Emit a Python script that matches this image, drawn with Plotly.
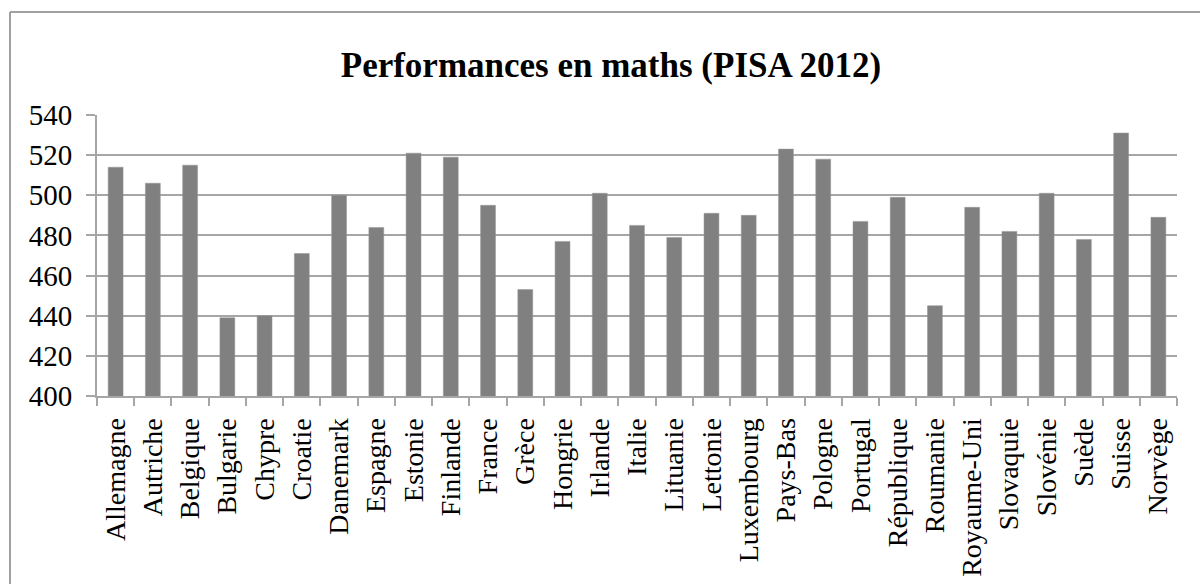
import plotly.graph_objects as go

pays = ["Allemagne", "Autriche", "Belgique", "Bulgarie", "Chypre", "Croatie",
        "Danemark", "Espagne", "Estonie", "Finlande", "France", "Grèce",
        "Hongrie", "Irlande", "Italie", "Lituanie", "Lettonie", "Luxembourg",
        "Pays-Bas", "Pologne", "Portugal", "République", "Roumanie",
        "Royaume-Uni", "Slovaquie", "Slovénie", "Suède", "Suisse", "Norvège"]
scores = [514, 506, 515, 439, 440, 471, 500, 484, 521, 519, 495, 453,
          477, 501, 485, 479, 491, 490, 523, 518, 487, 499, 445,
          494, 482, 501, 478, 531, 489]
y_ticks = [400, 420, 440, 460, 480, 500, 520, 540]

W, H = 1200, 584
L, R, T, B = 97, 23, 115, 188
pw, ph = W - L - R, H - T - B

def px(x):
    return (x - L) / pw

def py(y):
    return (H - B - y) / ph

grid = "#a6a6a6"
font = "Liberation Serif"

fig = go.Figure(go.Bar(
    x=pays, y=scores,
    marker=dict(color="#808080", line=dict(color="rgba(150,150,150,0.5)", width=1)),
))

fig.update_layout(
    width=W, height=H,
    margin=dict(l=L, r=R, t=T, b=B, autoexpand=False),
    paper_bgcolor="white", plot_bgcolor="white",
    bargap=0.6,
    showlegend=False,
    title=dict(text="<b>Performances en maths (PISA 2012)</b>",
               x=px(611), xanchor="center", xref="paper",
               y=1 - 65 / H, yanchor="middle",
               font=dict(family=font, size=35, color="black")),
    shapes=[
        dict(type="line", xref="paper", yref="paper",
             x0=px(10), x1=px(W + 5), y0=py(12), y1=py(12),
             line=dict(color="#a0a0a0", width=2)),
        dict(type="line", xref="paper", yref="paper",
             x0=px(10), x1=px(10), y0=py(12), y1=py(H + 5),
             line=dict(color="#a0a0a0", width=2)),
    ],
)

fig.update_xaxes(
    type="category",
    automargin=False,
    tickangle=-90,
    tickson="boundaries",
    ticks="outside", ticklen=8, tickwidth=2, tickcolor=grid,
    ticklabelstandoff=9,
    showline=True, linecolor=grid, linewidth=2,
    showgrid=False,
    tickfont=dict(family=font, size=28, color="black"),
)

fig.update_yaxes(
    range=[400, 540],
    automargin=False,
    tickvals=y_ticks,
    ticks="outside", ticklen=9, tickwidth=2, tickcolor=grid,
    ticklabelstandoff=8,
    showline=True, linecolor=grid, linewidth=2,
    showgrid=True, gridcolor=grid, gridwidth=2,
    tickfont=dict(family=font, size=29, color="black"),
    zeroline=False,
)

fig.write_html("out.html")
